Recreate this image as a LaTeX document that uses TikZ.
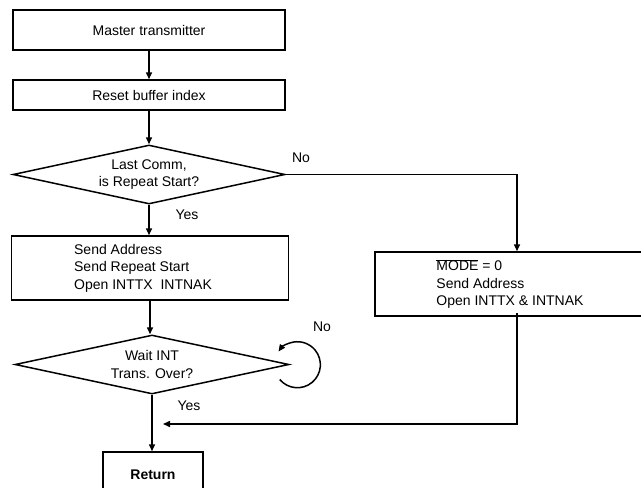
\documentclass[tikz,border=0pt]{standalone}
\usepackage{fontspec}
\setmainfont{Liberation Sans}
\usetikzlibrary{arrows.meta,shapes.geometric}

\tikzset{
  stepbox/.style={draw, rectangle, inner sep=0pt, align=left},
  decide/.style={draw, diamond, aspect=4.6, inner sep=0pt, align=center},
  flow/.style={-{Triangle[length=7pt,width=6pt]}},
}

\begin{document}
\begin{tikzpicture}[x=1pt, y=-1pt, line width=1.5pt, line join=miter,
    font=\fontsize{14}{17.5}\selectfont]
  \useasboundingbox (0,0) rectangle (641,488);
  \clip (0,0) rectangle (641,488);

  % left column, top to bottom
  \node[stepbox, minimum width=272, minimum height=40, align=center] (master) at (149,30) {Master transmitter};
  \node[stepbox, minimum width=272, minimum height=30, align=center] (reset) at (149,95) {Reset buffer index};
  \node[decide, minimum width=272, minimum height=59] (lastcomm) at (149,174.5) {Last Comm,\\is Repeat Start?};
  \node[stepbox, minimum width=277, minimum height=64] (sendrep) at (150,268) {Send Address\\Send Repeat Start\\Open INTTX\ \ INTNAK\hspace*{14pt}};
  \node[decide, minimum width=274, minimum height=59] (waitint) at (152,364.5) {Wait INT\\Trans. Over?};
  \node[stepbox, minimum width=100, minimum height=52, align=center, font=\fontsize{14}{17.5}\selectfont\bfseries] (ret) at (153,478) {\raisebox{6pt}{Return}};

  % right branch, runs off the page edge
  \node[stepbox, minimum width=284, minimum height=64] (sendaddr) at (517,284) {$\overline{\hbox{MODE}}$ = 0\\Send Address\\Open INTTX \& INTNAK\hspace*{14pt}};

  % labels
  \node (nofirst) at (301,158) {No};
  \node (yesfirst) at (187,215) {Yes};
  \node (noloop) at (322,327) {No};
  \node (yesloop) at (189,406) {Yes};

  \coordinate (merge) at (163,424);

  \draw[flow] (master) -- (master.south |- reset.north);
  \draw[flow] (reset) -- (reset.south |- lastcomm.north);
  \draw[flow] (lastcomm) -- (lastcomm.south |- sendrep.north);
  \draw[flow] (sendrep) -- (sendrep.south |- waitint.north);
  \draw[flow] (waitint) -- (waitint.south |- ret.north);
  \draw[flow] (lastcomm.east) -| (sendaddr.north);
  \draw[flow] ([yshift=4]sendaddr.south) |- (merge);
  % retry loop on the wait decision
  \draw[flow] ([shift={(-10,15)}]waitint.east) arc[start angle=140, end angle=-145, radius=23];
\end{tikzpicture}
\end{document}
